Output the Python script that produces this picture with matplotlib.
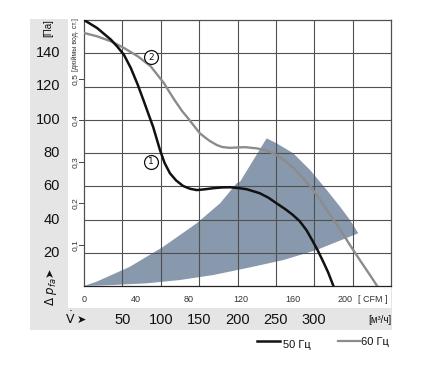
import matplotlib
matplotlib.use("Agg")
import matplotlib.pyplot as plt
from matplotlib.patches import Rectangle, Polygon
from matplotlib import font_manager

# ---------------- data ----------------
# 50 Hz curve (flow m3/h, pressure Pa)
q50 = [0, 17, 35, 43, 52, 61, 70, 78, 85, 90, 99, 105, 112, 120, 129, 138, 147,
       158, 168, 180, 190, 203, 212, 229, 240, 251, 262, 272, 281, 290, 298, 305,
       312, 318, 325]
p50 = [160, 155.2, 148.2, 144.2, 139.1, 131.1, 121.1, 111.1, 102.1, 95.8, 81.8, 74,
       67.8, 63.5, 60.2, 58.5, 57.7, 58.2, 58.8, 59.3, 59.4, 58.8, 58.2, 55.8, 53.2,
       49.7, 46.3, 42.8, 39.0, 33.5, 27.0, 21.0, 14.3, 8.3, 0]
# 60 Hz curve
q60 = [0, 17, 35, 52, 70, 87, 104, 117, 128, 134, 151, 163, 173, 180, 190, 203, 210,
       225, 237, 247, 260, 273, 285, 295, 305, 316, 334, 347, 360, 372, 382]
p60 = [152.2, 150.2, 147.2, 143.2, 138.2, 132.1, 122.1, 112.5, 105.1, 101.8, 91.8,
       87.5, 84.8, 83.6, 83.1, 83.4, 83.5, 82.8, 81.6, 79.8, 76.0, 71.0, 65.0, 60.0,
       53.5, 46.0, 33.8, 24.3, 15.2, 7.0, 0]
# operating area outline (m3/h, Pa)
area_q = [0, 16.5, 59.9, 103.3, 146.8, 177.2, 199, 203.3, 238, 251.1, 272.7, 294.5,
          316.3, 333.6, 346.6, 357.4, 303.2, 259.7, 216.3, 168.5, 125, 81.7, 38.2]
area_p = [0, 2.6, 11.6, 23.6, 37.7, 49.7, 61.8, 62.7, 88.8, 85.8, 79.8, 69.8,
          57.7, 47.7, 39.7, 31.7, 21.7, 15.6, 11.2, 6.6, 3.6, 1.6, 0.6]

pa_ticks = [20, 40, 60, 80, 100, 120, 140]
m3h_ticks = [50, 100, 150, 200, 250, 300]
cfm_ticks = [0, 40, 80, 120, 160, 200]
inwg_ticks = [0.1, 0.2, 0.3, 0.4, 0.5]
inwg_labels = ["0,1", "0,2", "0,3", "0,4", "0,5"]

# curve marker positions
mark_labels = ["1", "2"]
mark_q = [87, 87]
mark_p = [74.6, 137.6]

names = {f.name for f in font_manager.fontManager.ttflist}
NARROW = 'Liberation Sans Narrow' if 'Liberation Sans Narrow' in names else 'Liberation Sans'

W, H = 423, 366
fig = plt.figure(figsize=(W / 100, H / 100), dpi=100)


def fx(px):
    return px / W


def fy(py):
    return 1 - py / H


# background panels
fig.patches.append(Rectangle((fx(30), fy(330)), fx(392) - fx(30), fy(19) - fy(330),
                             transform=fig.transFigure, facecolor='#e5e5e5',
                             edgecolor='none', zorder=-10))
fig.patches.append(Rectangle((fx(68), fy(308)), fx(391) - fx(68), fy(19) - fy(308),
                             transform=fig.transFigure, facecolor='white',
                             edgecolor='none', zorder=-9))

ax = fig.add_axes([fx(84), fy(286), fx(391) - fx(84), fy(20) - fy(286)])
ax.set_xlim(0, 400)
ax.set_ylim(0, 160)
ax.set_facecolor('white')

# operating area
ax.add_patch(Polygon(list(zip(area_q, area_p)), closed=True, facecolor='#8898ad',
                     edgecolor='none', zorder=1))

# grid
for v in range(50, 400, 50):
    ax.axvline(v, color='#505050', lw=0.8, zorder=2)
for v in pa_ticks:
    ax.axhline(v, color='#505050', lw=0.8, zorder=2)

for s in ax.spines.values():
    s.set_color('#505050')
    s.set_linewidth(0.9)
    s.set_zorder(3)
ax.spines['bottom'].set_color('#222222')
ax.set_xticks([])
ax.set_yticks([])

ax.plot(q60, p60, color='#8c8c8c', lw=1.7, zorder=4, solid_joinstyle='round')
ax.plot(q50, p50, color='#111111', lw=1.8, zorder=5, solid_joinstyle='round')

for lab, mq, mp in zip(mark_labels, mark_q, mark_p):
    ax.plot([mq], [mp], marker='o', ms=10, mfc='white', mec='#111111', mew=0.9,
            zorder=6, clip_on=False)
    ax.text(mq, mp, lab, ha='center', va='center', fontsize=6.5, zorder=7,
            family='DejaVu Sans', color='#111111')

# Pa tick labels
trans_y = ax.get_yaxis_transform()
ylab_x = (60 - 84) / (391 - 84)
for v in pa_ticks:
    ax.text(ylab_x, v, str(v), transform=trans_y, ha='right', va='center',
            fontsize=10.5, family=NARROW, color='#111111')

# inches of water secondary ticks
tick_x0 = (79 - 84) / (391 - 84)
lab_x = (75 - 84) / (391 - 84)
for v, lab in zip(inwg_ticks, inwg_labels):
    pa = v * 249.09
    ax.plot([tick_x0, 0], [pa, pa], transform=trans_y, color='#444444', lw=0.7,
            clip_on=False)
    ax.text(lab_x, pa, lab, transform=trans_y, rotation=90, ha='center',
            va='center', fontsize=6, family=NARROW, color='#333333')
ax.text(lab_x, 0.5 * 249.09 + 5, '[дюймы вод. ст.]', transform=trans_y, rotation=90,
        ha='center', va='bottom', fontsize=5, family=NARROW, color='#333333')

fig.text(fx(48), fy(28), '[Па]', rotation=90, ha='center', va='center',
         fontsize=7, family=NARROW, color='#111111')
fig.text(fx(51), fy(292), r'$\Delta\ p_{fa}$', rotation=90, ha='center', va='center',
         fontsize=8.5, color='#111111')
fig.text(fx(50), fy(272), '➤', rotation=90, ha='center', va='center',
         fontsize=8, color='#111111', family='DejaVu Sans')

# CFM axis
trans_x = ax.get_xaxis_transform()
cfm_y = (286 - 300) / (286 - 20)
for c in cfm_ticks:
    ax.text(c * 1.699, cfm_y, str(c), transform=trans_x, ha='center', va='center',
            fontsize=6.5, family=NARROW, color='#333333')
fig.text(fx(373), fy(300), '[ CFM ]', ha='center', va='center', fontsize=6.5,
         family=NARROW, color='#333333')

# m3/h axis
m3_y = (286 - 320) / (286 - 20)
for m in m3h_ticks:
    ax.text(m, m3_y, str(m), transform=trans_x, ha='center', va='center',
            fontsize=10.5, family=NARROW, color='#111111')
fig.text(fx(380), fy(320), '[м³/ч]', ha='center', va='center', fontsize=7,
         family=NARROW, color='#111111')
fig.text(fx(70), fy(319), r'$\dot{\mathrm{V}}$', ha='center', va='center',
         fontsize=9, color='#111111')
fig.text(fx(81), fy(320), '➤', ha='center', va='center', fontsize=8,
         color='#111111', family='DejaVu Sans')

# legend
fig.lines.append(plt.Line2D([fx(257), fx(280)], [fy(341), fy(341)],
                            transform=fig.transFigure, color='#111111', lw=1.8))
fig.text(fx(283), fy(345), '50 Гц', ha='left', va='center', fontsize=8,
         family=NARROW, color='#111111')
fig.lines.append(plt.Line2D([fx(338), fx(360)], [fy(341), fy(341)],
                            transform=fig.transFigure, color='#8c8c8c', lw=1.6))
fig.text(fx(361), fy(342), '60 Гц', ha='left', va='center', fontsize=8,
         family=NARROW, color='#111111')

fig.savefig('out.png', dpi=100)
